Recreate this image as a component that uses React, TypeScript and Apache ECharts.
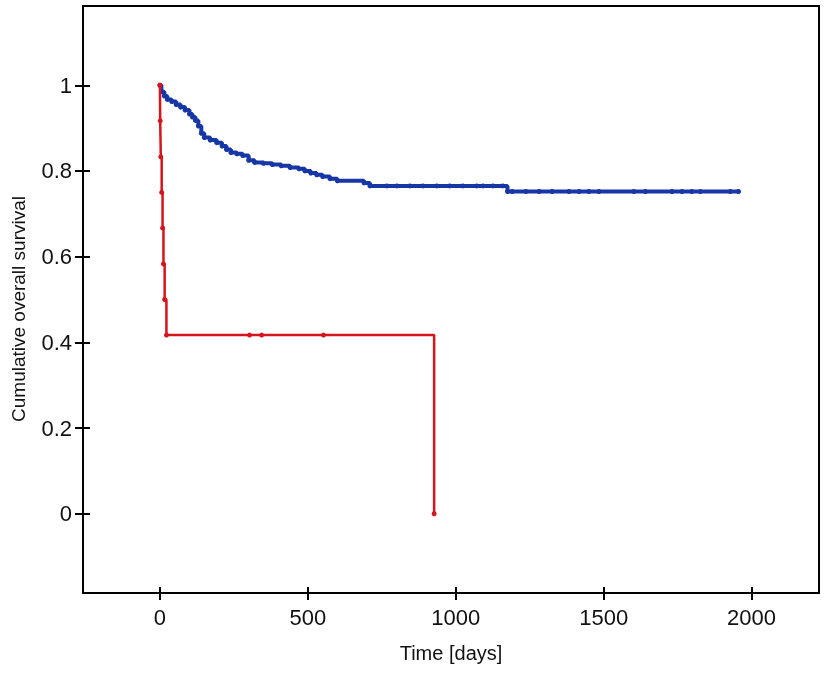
import React, { useEffect, useRef } from "react";
import * as echarts from "echarts";

// Kaplan-Meier curves: [time in days, survival]
const blueTimes = [0, 5, 15, 25, 40, 55, 70, 85, 100, 110, 120, 130, 140, 150, 170, 192, 210, 225, 240, 260, 280, 300, 320, 350, 380, 410, 440, 470, 490, 510, 530, 550, 575, 600, 690, 710, 767, 801, 845, 889, 936, 980, 1024, 1071, 1092, 1126, 1159, 1175, 1191, 1237, 1282, 1326, 1383, 1417, 1450, 1484, 1602, 1641, 1731, 1765, 1798, 1827, 1928, 1956];
const blueSurv = [1.0, 0.985, 0.975, 0.967, 0.962, 0.955, 0.949, 0.942, 0.933, 0.926, 0.918, 0.905, 0.888, 0.878, 0.872, 0.866, 0.858, 0.85, 0.843, 0.84, 0.836, 0.825, 0.82, 0.818, 0.815, 0.812, 0.808, 0.805, 0.8, 0.795, 0.791, 0.787, 0.782, 0.777, 0.772, 0.765, 0.765, 0.765, 0.765, 0.765, 0.765, 0.765, 0.765, 0.765, 0.765, 0.765, 0.765, 0.752, 0.752, 0.752, 0.752, 0.752, 0.752, 0.752, 0.752, 0.752, 0.752, 0.752, 0.752, 0.752, 0.752, 0.752, 0.752, 0.752];

const redTimes = [0, 1, 3, 6, 9, 12, 16, 22, 303, 344, 553, 927];
const redSurv = [1.0, 0.917, 0.833, 0.75, 0.667, 0.583, 0.5, 0.417, 0.417, 0.417, 0.417, 0.0];

const xTicks = [0, 500, 1000, 1500, 2000];
const yTicks = [0, 0.2, 0.4, 0.6, 0.8, 1];
const xMin = -260;
const xMax = 2228;
const yMin = -0.185;
const yMax = 1.185;

const xTitle = "Time [days]";
const yTitle = "Cumulative overall survival";

export default function App() {
  const ref = useRef<HTMLDivElement>(null);
  useEffect(() => {
    if (!ref.current) return;
    const chart = echarts.init(ref.current, undefined, { renderer: "svg" });
    const blueData = blueTimes.map((t, i) => [t, blueSurv[i]]);
    const redData = redTimes.map((t, i) => [t, redSurv[i]]);
    const font = "Liberation Sans, Arial, sans-serif";
    chart.setOption({
      animation: false,
      grid: {
        left: 83,
        right: 8,
        top: 6,
        bottom: 84,
        show: true,
        borderColor: "#000",
        borderWidth: 2,
      },
      xAxis: [
        {
          type: "value",
          min: xMin,
          max: xMax,
          position: "bottom",
          splitLine: { show: false },
          name: xTitle,
          nameLocation: "middle",
          nameGap: 50,
          nameTextStyle: { fontSize: 20, color: "#111", fontFamily: font },
          axisLine: { show: true, onZero: false, lineStyle: { color: "#000", width: 2 } },
          axisTick: { show: true, inside: false, length: 7, lineStyle: { color: "#000", width: 2 }, customValues: xTicks },
          axisLabel: {
            show: true,
            customValues: xTicks,
            fontSize: 22,
            color: "#111",
            fontFamily: font,
            margin: 13,
            formatter: (v: number) => String(v),
          },
        },
        {
          type: "value",
          min: xMin,
          max: xMax,
          position: "bottom",
          splitLine: { show: false },
          axisLine: { show: false, onZero: false },
          axisTick: { show: true, inside: true, length: 6, lineStyle: { color: "#000", width: 2 }, customValues: xTicks },
          axisLabel: { show: false },
        },
      ],
      yAxis: [
        {
          type: "value",
          min: yMin,
          max: yMax,
          position: "left",
          splitLine: { show: false },
          axisLine: { show: true, onZero: false, lineStyle: { color: "#000", width: 2 } },
          axisTick: { show: true, inside: false, length: 8, lineStyle: { color: "#000", width: 2 }, customValues: yTicks },
          axisLabel: {
            show: true,
            customValues: yTicks,
            fontSize: 22,
            color: "#111",
            fontFamily: font,
            margin: 11,
            formatter: (v: number) => String(Math.round(v * 10) / 10),
          },
        },
        {
          type: "value",
          min: yMin,
          max: yMax,
          position: "left",
          splitLine: { show: false },
          axisLine: { show: false, onZero: false },
          axisTick: { show: true, inside: true, length: 7, lineStyle: { color: "#000", width: 2 }, customValues: yTicks },
          axisLabel: { show: false },
        },
      ],
      graphic: [
        {
          type: "text",
          x: 18,
          y: 309,
          rotation: Math.PI / 2,
          style: {
            text: yTitle,
            fontSize: 19,
            fill: "#111",
            fontFamily: font,
            textAlign: "center",
            textVerticalAlign: "middle",
          },
        },
      ],
      series: [
        {
          type: "line",
          step: "end",
          data: blueData,
          lineStyle: { color: "#1737a6", width: 4 },
          itemStyle: { color: "#1737a6" },
          symbol: "circle",
          symbolSize: 5,
          showSymbol: true,
          showAllSymbol: true,
          z: 2,
        },
        {
          type: "line",
          step: "end",
          data: redData,
          lineStyle: { color: "#d6141c", width: 2.5 },
          itemStyle: { color: "#d6141c" },
          symbol: "circle",
          symbolSize: 5,
          showSymbol: true,
          showAllSymbol: true,
          z: 3,
        },
      ],
    });
    return () => chart.dispose();
  }, []);
  return <div ref={ref} style={{ position: "fixed", left: 0, top: 0, width: 827, height: 677 }} />;
}
